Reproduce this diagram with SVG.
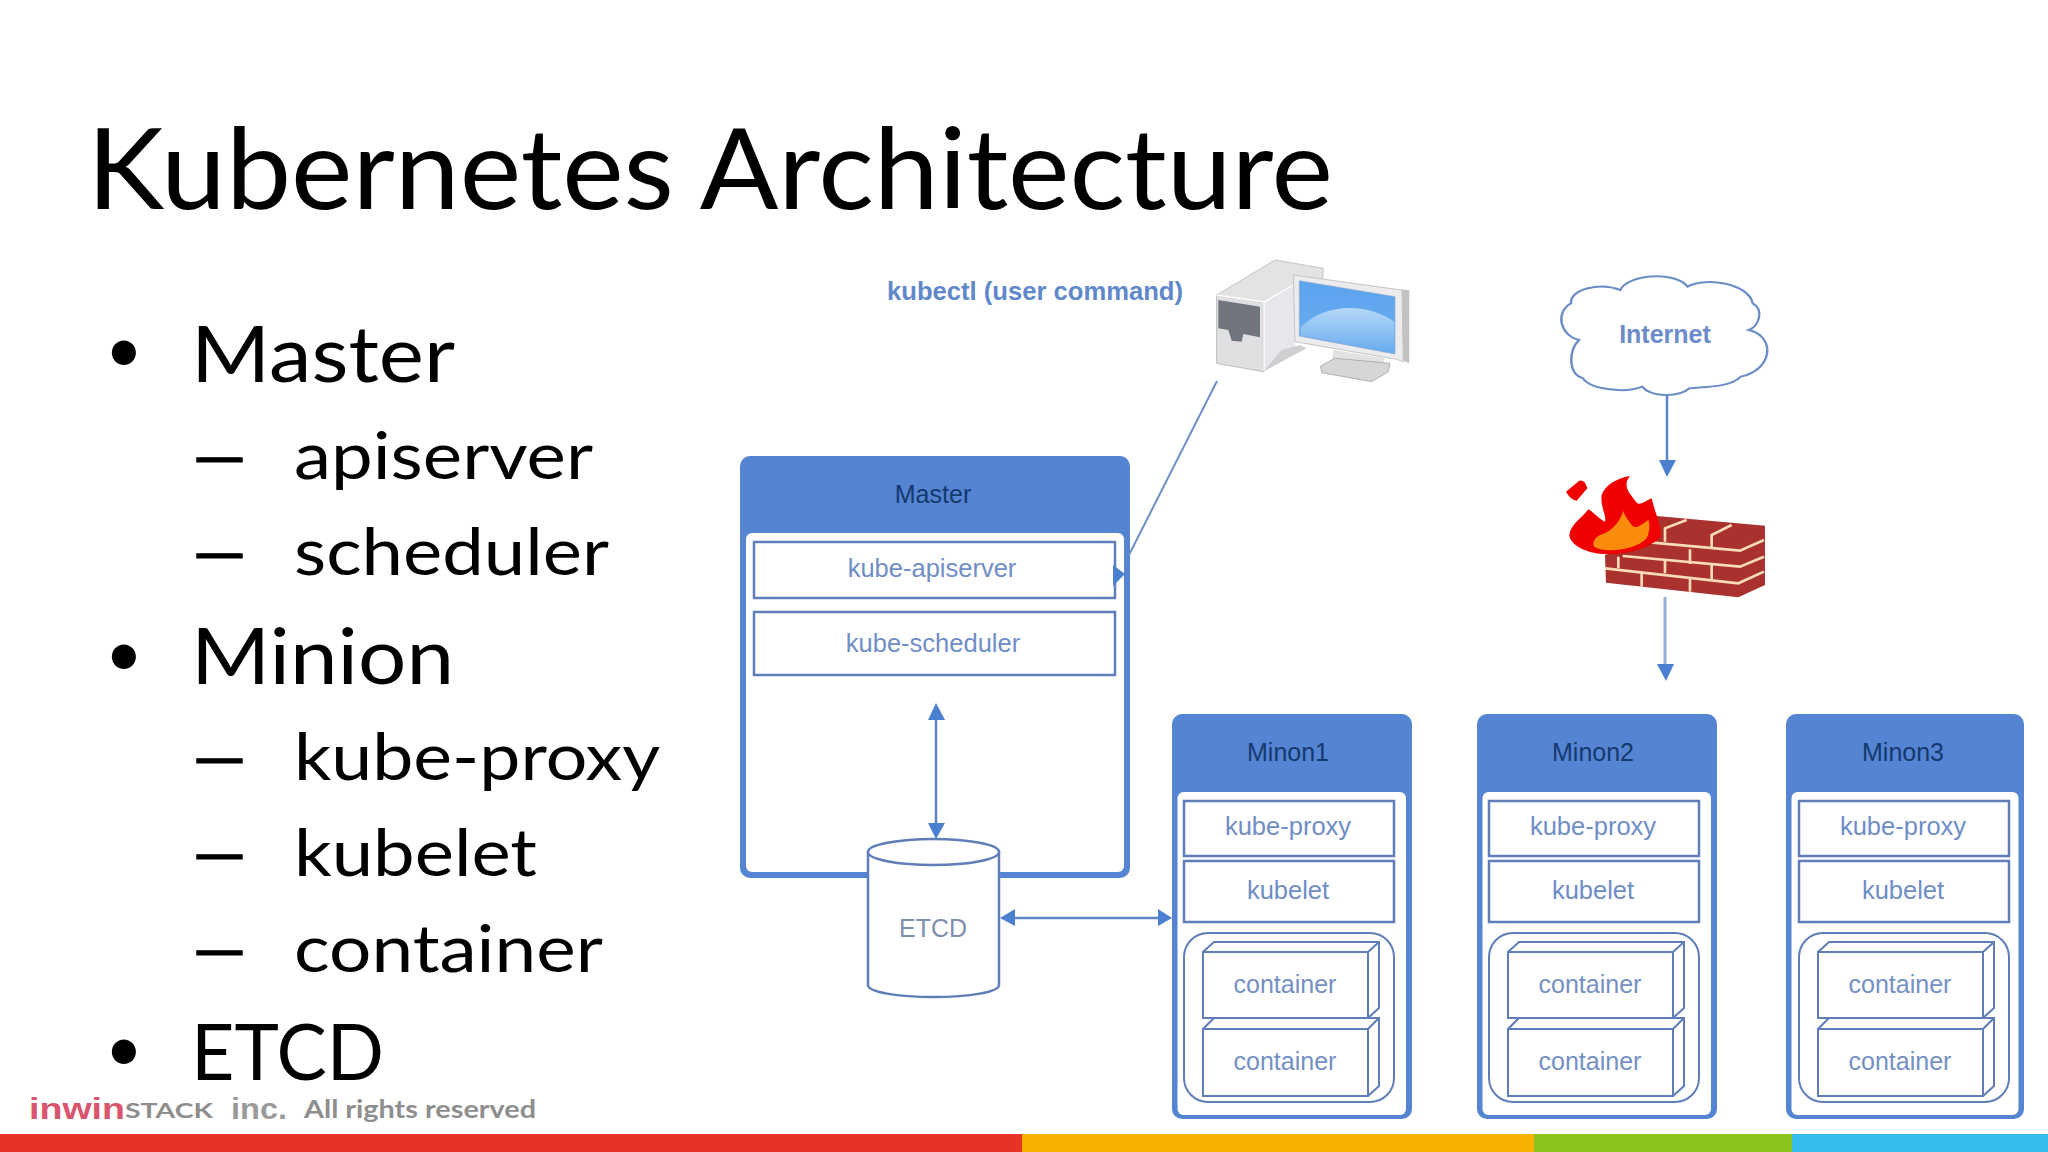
<svg xmlns="http://www.w3.org/2000/svg" width="2048" height="1152" viewBox="0 0 2048 1152">
<style>
text{font-family:"Liberation Sans",Arial,sans-serif}
.sl{font-family:Lato,"Liberation Sans",sans-serif;fill:#000}
.t{font-size:112px}.b{font-size:78px}.s{font-size:66px}.p{font-size:65px}
.hd{fill:#5584d2}.in{fill:#fff}
.box{fill:#fff;stroke:#5f7db8;stroke-width:2.5}
.thin{fill:none;stroke:#5f7db8;stroke-width:2}
.m{font-size:25px;fill:#14396f;text-anchor:middle}
.l{font-size:25.500px;fill:#6f8dc6;text-anchor:middle}
.c{font-size:25px;fill:#7490c4;text-anchor:middle}
.bd{font-weight:bold;font-size:25px;fill:#5f88cb}
.ln{fill:none;stroke:#5b83c6;stroke-width:2.5}
.ah{fill:#4a80cf}
.ft{font-family:Lato,"Liberation Sans",sans-serif;font-weight:bold;fill:#8e8e8e}
.brk{fill:none;stroke:#f9dcb6;stroke-width:8;stroke-linejoin:miter}
</style>
<defs>
<linearGradient id="scr" x1="0" y1="0" x2="0" y2="1"><stop offset="0" stop-color="#5aa3ee"/><stop offset="1" stop-color="#6eaff0"/></linearGradient>
<linearGradient id="hl" x1="0" y1="0" x2="0" y2="1"><stop offset="0" stop-color="#b5d8f8"/><stop offset="1" stop-color="#66abef"/></linearGradient>
<filter id="soft" x="-5%" y="-5%" width="110%" height="110%"><feGaussianBlur stdDeviation="1"/></filter>
</defs>
<rect width="2048" height="1152" fill="#fff"/>

<g id="slide-text">
<text class="sl t" x="87" y="209" textLength="1246" lengthAdjust="spacingAndGlyphs">Kubernetes Architecture</text>
<text class="sl p" x="105" y="372">•</text>
<text class="sl b" x="191" y="382" textLength="264" lengthAdjust="spacingAndGlyphs">Master</text>
<text class="sl s" x="187" y="479" textLength="65" lengthAdjust="spacingAndGlyphs" stroke="#000" stroke-width="1">–</text>
<text class="sl s" x="294" y="479" textLength="299" lengthAdjust="spacingAndGlyphs">apiserver</text>
<text class="sl s" x="187" y="575" textLength="65" lengthAdjust="spacingAndGlyphs" stroke="#000" stroke-width="1">–</text>
<text class="sl s" x="294" y="575" textLength="315" lengthAdjust="spacingAndGlyphs">scheduler</text>
<text class="sl p" x="105" y="676">•</text>
<text class="sl b" x="191" y="684" textLength="263" lengthAdjust="spacingAndGlyphs">Minion</text>
<text class="sl s" x="187" y="780" textLength="65" lengthAdjust="spacingAndGlyphs" stroke="#000" stroke-width="1">–</text>
<text class="sl s" x="294" y="780" textLength="366" lengthAdjust="spacingAndGlyphs">kube-proxy</text>
<text class="sl s" x="187" y="876" textLength="65" lengthAdjust="spacingAndGlyphs" stroke="#000" stroke-width="1">–</text>
<text class="sl s" x="294" y="876" textLength="243" lengthAdjust="spacingAndGlyphs">kubelet</text>
<text class="sl s" x="187" y="972" textLength="65" lengthAdjust="spacingAndGlyphs" stroke="#000" stroke-width="1">–</text>
<text class="sl s" x="294" y="972" textLength="309" lengthAdjust="spacingAndGlyphs">container</text>
<text class="sl p" x="105" y="1071">•</text>
<text class="sl b" x="191" y="1080" textLength="193" lengthAdjust="spacingAndGlyphs">ETCD</text>
</g>

<g id="footer">
<rect x="0" y="1134" width="1022" height="18" fill="#e63227"/>
<rect x="1022" y="1134" width="512" height="18" fill="#f7b200"/>
<rect x="1534" y="1134" width="258" height="18" fill="#8cc31a"/>
<rect x="1792" y="1134" width="256" height="18" fill="#34bdec"/>
<text x="29" y="1119" font-size="30" font-weight="bold" font-family="Lato,sans-serif" fill="#d9546c" textLength="96" lengthAdjust="spacingAndGlyphs">inwin</text>
<text class="ft" x="125" y="1118" font-size="20" font-weight="900" textLength="88" lengthAdjust="spacingAndGlyphs">STACK</text>
<text x="231" y="1119" font-size="30" font-weight="bold" font-family="Lato,sans-serif" fill="#9a9a9a" textLength="56" lengthAdjust="spacingAndGlyphs">inc.</text>
<text class="ft" x="304" y="1118" font-size="24" textLength="232" lengthAdjust="spacingAndGlyphs">All rights reserved</text>
</g>

<g id="kubectl-label"><text class="bd" x="887" y="300" textLength="296" lengthAdjust="spacingAndGlyphs">kubectl (user command)</text></g>

<g id="computer" transform="translate(1200,250) scale(.3333)" filter="url(#soft)">
<polygon points="50,135 225,30 370,55 368,85 195,158" fill="#e3e3e3" stroke="#c4c4c4" stroke-width="3"/>
<polygon points="190,158 285,105 285,290 190,365" fill="#e6e7ea"/>
<polygon points="50,135 190,158 190,365 50,340" fill="#e0e0e2" stroke="#bdbdbd" stroke-width="3"/>
<polyline points="50,135 192,156 280,105" fill="none" stroke="#fff" stroke-width="4"/>
<line x1="192" y1="156" x2="192" y2="362" stroke="#fff" stroke-width="4"/>
<polygon points="55,150 180,170 180,262 130,252 125,275 95,272 85,240 55,235" fill="#70757e"/>
<polygon points="245,300 300,285 320,295 190,365" fill="#cfcfd1"/>
<polygon points="400,300 555,325 545,345 395,345" fill="#e2e2e2"/>
<polygon points="362,348 405,325 570,340 565,365 515,395 365,368" fill="#d6d6d6" stroke="#b0b0b0" stroke-width="3"/>
<polygon points="590,118 628,120 628,340 590,325" fill="#c2c2c2"/>
<polygon points="280,75 590,118 606,120 610,335 590,328 285,275" fill="#ececee" stroke="#c4c4c6" stroke-width="3"/>
<polygon points="298,92 585,140 585,312 298,258" fill="url(#scr)" stroke="#8aa9c8" stroke-width="2"/>
<path d="M302,232C370,160 500,155 583,215L583,310 302,256Z" fill="url(#hl)"/>
</g>

<g id="cloud" transform="translate(1180,240) scale(.395,.3333)">
<path d="M1010,300C960,285 950,215 990,190C985,150 1060,125 1115,150C1130,105 1250,90 1285,140C1330,110 1440,130 1450,190C1480,210 1465,260 1440,270C1510,290 1500,390 1420,410C1390,445 1320,440 1290,445C1260,475 1190,470 1170,440C1130,460 1040,450 1020,415C980,400 985,330 1010,300Z" fill="#fff" stroke="#6a8dc6" stroke-width="6"/>
</g>
<g id="internet-label"><text class="bd" x="1665" y="343" text-anchor="middle" style="fill:#6b8bc9">Internet</text></g>

<g id="firewall" transform="translate(1550,460) scale(.3333)" filter="url(#soft)">
<polygon points="320,168 645,197 645,375 565,412 168,368 165,285 290,240" fill="#a9302f"/>
<polyline class="brk" points="275,245 570,272 642,240"/>
<polyline class="brk" points="218,288 570,320 642,290"/>
<polyline class="brk" points="165,325 565,370 642,335"/>
<polyline class="brk" points="345,245 345,205 410,180"/>
<polyline class="brk" points="485,262 485,225 545,195"/>
<path class="brk" d="M205,290V325M345,298V340M420,268V312M485,315V360M275,335V380M420,355V395"/>
<path d="M48,95L88,62Q105,58 112,85L80,122Q60,118 48,95Z" fill="#f00000"/>
<path d="M240,48C200,55 165,75 155,105C150,140 170,165 165,185C150,180 135,160 115,148C100,170 60,195 58,225C60,255 110,280 160,282C230,285 300,265 332,230C335,195 315,160 305,115C290,120 275,135 262,130C240,100 215,80 240,48Z" fill="#f00000"/>
<path d="M220,152C210,185 185,215 150,225C130,235 125,255 135,262C165,280 260,270 290,235C300,215 300,190 295,180C275,195 255,210 245,195C235,180 225,170 220,152Z" fill="#f98b0a"/>
</g>

<g id="master">
<rect x="740" y="456" width="390" height="422" rx="10" class="hd"/>
<rect x="746" y="533" width="378" height="339" rx="6" class="in"/>
<text class="m" x="933" y="503">Master</text>
<rect x="754" y="542" width="361" height="56" class="box"/>
<text class="l" x="932" y="577">kube-apiserver</text>
<rect x="754" y="612" width="361" height="63" class="box"/>
<text class="l" x="933" y="652">kube-scheduler</text>
</g>

<g id="etcd">
<path d="M868,852V985C868,992 897,997 933.500,997C970,997 999,992 999,985V852Z" fill="#fff" stroke="#5f7db8" stroke-width="2.500"/>
<ellipse cx="933.500" cy="852" rx="65.500" ry="13" fill="#fff" stroke="#5f7db8" stroke-width="2.500"/>
<text class="c" x="933" y="937" style="fill:#7d8fae">ETCD</text>
</g>

<g id="minion1" transform="translate(1172,714)">
<rect width="240" height="405" rx="10" class="hd"/><rect x="5.500" y="78" width="228.500" height="323" rx="6" class="in"/>
<text class="m" x="116" y="47">Minon1</text>
<rect x="12" y="87" width="210" height="55" class="box"/><text class="l" x="116" y="121">kube-proxy</text>
<rect x="12" y="147" width="210" height="61" class="box"/><text class="l" x="116" y="185">kubelet</text>
<rect x="12" y="219" width="210" height="169" rx="24" class="thin"/>
<path class="thin" d="M31,238H196V304H31ZM31,238L42,228H207V294L196,304M196,238L207,228M31,315H196V382H31ZM31,315L42,304H207V372L196,382M196,315L207,304"/>
<text class="c" x="113" y="279">container</text><text class="c" x="113" y="356">container</text>
</g>
<g id="minion2" transform="translate(1477,714)">
<rect width="240" height="405" rx="10" class="hd"/><rect x="5.500" y="78" width="228.500" height="323" rx="6" class="in"/>
<text class="m" x="116" y="47">Minon2</text>
<rect x="12" y="87" width="210" height="55" class="box"/><text class="l" x="116" y="121">kube-proxy</text>
<rect x="12" y="147" width="210" height="61" class="box"/><text class="l" x="116" y="185">kubelet</text>
<rect x="12" y="219" width="210" height="169" rx="24" class="thin"/>
<path class="thin" d="M31,238H196V304H31ZM31,238L42,228H207V294L196,304M196,238L207,228M31,315H196V382H31ZM31,315L42,304H207V372L196,382M196,315L207,304"/>
<text class="c" x="113" y="279">container</text><text class="c" x="113" y="356">container</text>
</g>
<g id="minion3" transform="translate(1786,714)">
<rect width="238" height="405" rx="10" class="hd"/><rect x="5.500" y="78" width="227" height="323" rx="6" class="in"/>
<text class="m" x="117" y="47">Minon3</text>
<rect x="13" y="87" width="210" height="55" class="box"/><text class="l" x="117" y="121">kube-proxy</text>
<rect x="13" y="147" width="210" height="61" class="box"/><text class="l" x="117" y="185">kubelet</text>
<rect x="13" y="219" width="210" height="169" rx="24" class="thin"/>
<path class="thin" d="M32,238H197V304H32ZM32,238L43,228H208V294L197,304M197,238L208,228M32,315H197V382H32ZM32,315L43,304H208V372L197,382M197,315L208,304"/>
<text class="c" x="114" y="279">container</text><text class="c" x="114" y="356">container</text>
</g>

<g id="connectors">
<line class="ln" x1="1217" y1="381" x2="1129" y2="555" style="stroke:#6f8fc8;stroke-width:2"/>
<polygon class="ah" points="1113,565 1125,574 1113,586"/>
<line class="ln" x1="1667" y1="396" x2="1667" y2="462"/>
<polygon class="ah" points="1659,460 1676,460 1667,477"/>
<line class="ln" x1="1665" y1="597" x2="1665" y2="665" style="stroke:#94aed8;stroke-width:3"/>
<polygon class="ah" points="1657,664 1674,664 1666,681"/>
<line class="ln" x1="936" y1="715" x2="936" y2="825"/>
<polygon class="ah" points="936,703 928,720 945,720"/>
<polygon class="ah" points="928,823 945,823 936,839"/>
<line class="ln" x1="1010" y1="918" x2="1160" y2="918"/>
<polygon class="ah" points="1000,918 1015,909 1015,926"/>
<polygon class="ah" points="1172,918 1158,909 1158,926"/>
</g>
</svg>
